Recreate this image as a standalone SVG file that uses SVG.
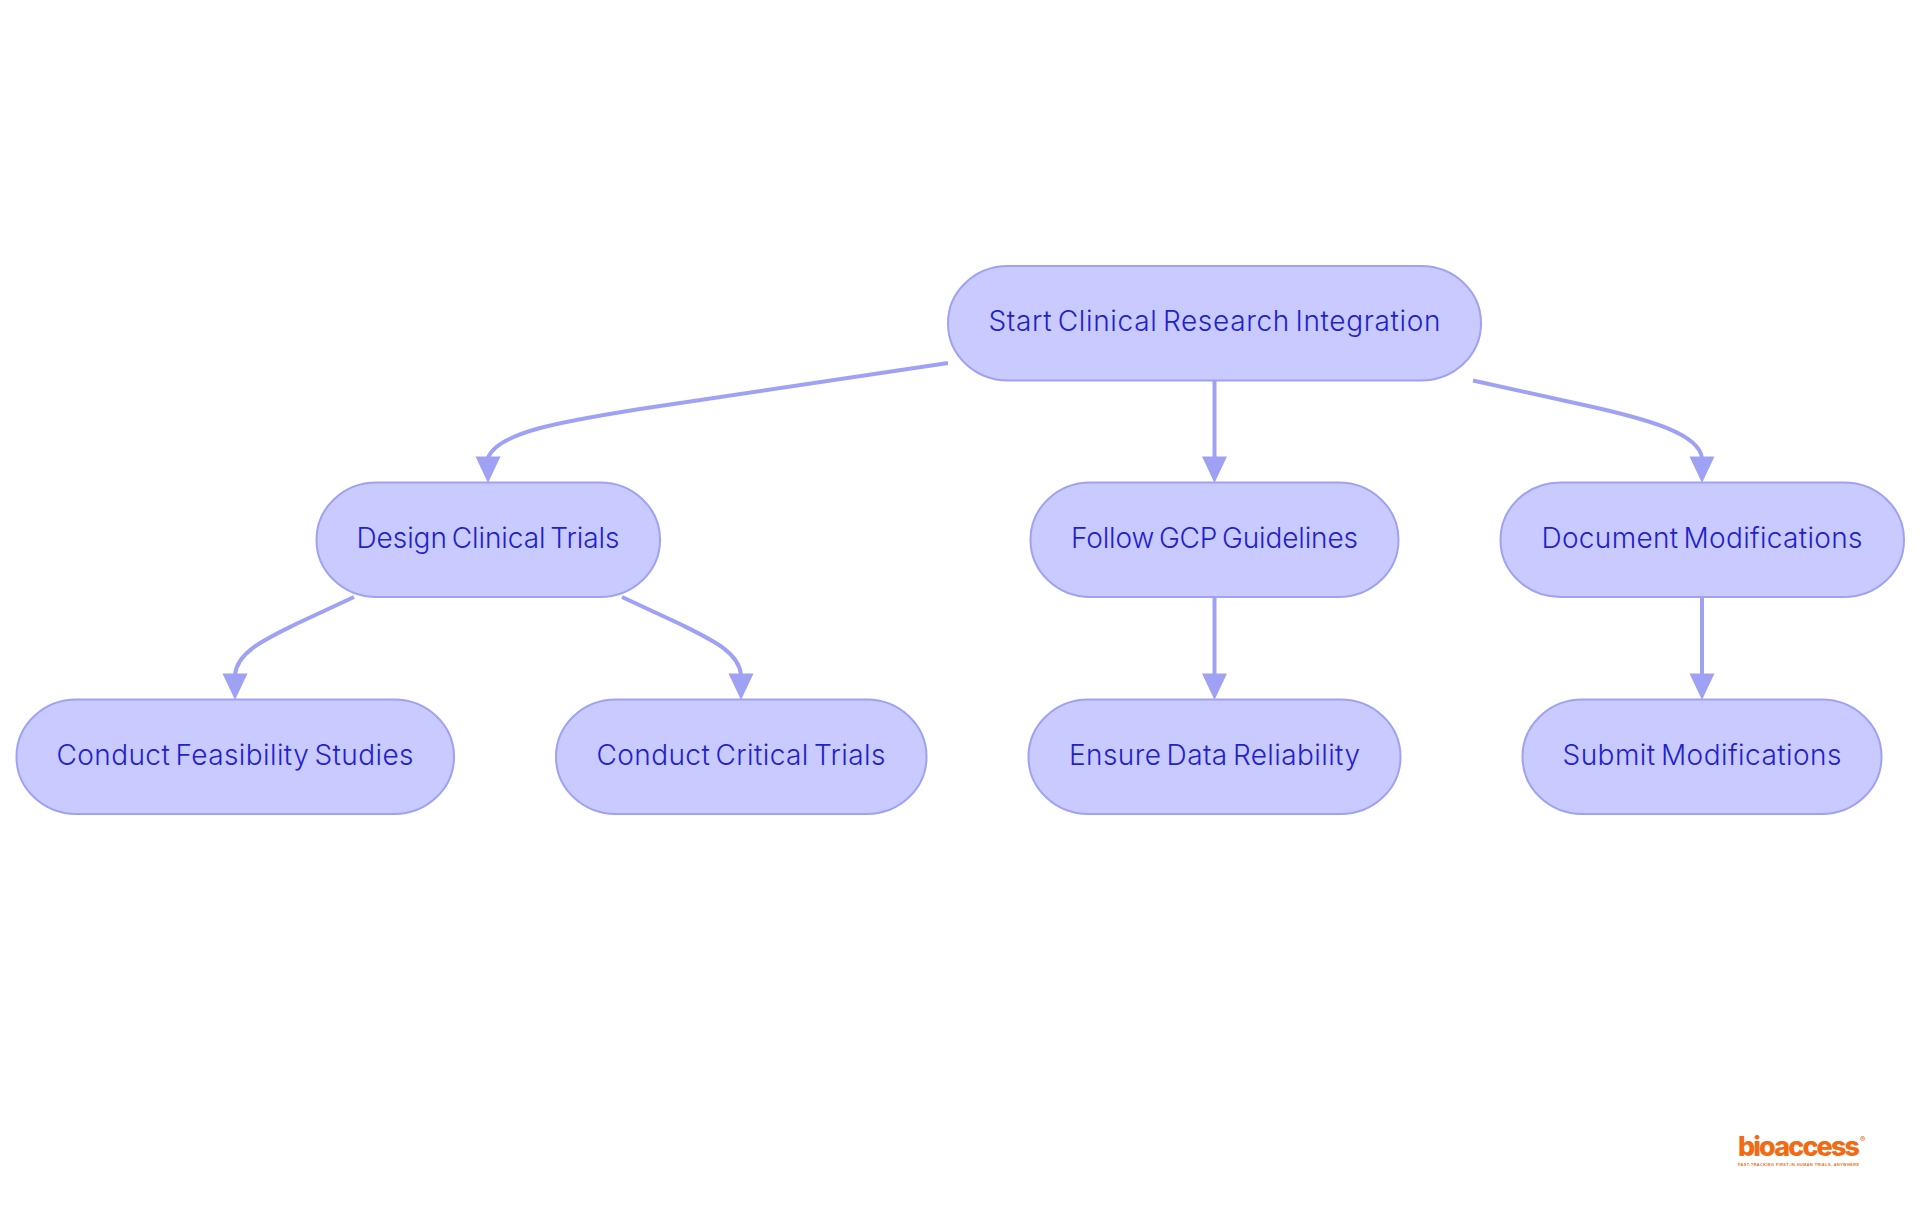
<svg xmlns="http://www.w3.org/2000/svg" width="1920" height="1215" viewBox="0 0 1920 1215">
<style>
.n{fill:#c9caff;stroke:#9fa2f4;stroke-width:2}
.t{font-family:"Inter","Noto Sans",sans-serif;font-size:28px;font-weight:300;word-spacing:-3px;fill:#2222cc;text-anchor:middle}
.c{fill:none;stroke:#9fa2f4;stroke-width:4}
.h{fill:#9fa2f4}
.logo{font-family:"Inter","Liberation Sans",sans-serif;fill:#f26a12}
.tag{font-family:"Liberation Sans",sans-serif;fill:#f26a12}
</style>
<defs><path id="ah" class="h" d="M-12.500 -25.500H12.500L0 1Z"/></defs>
<rect width="1920" height="1215" fill="#fff"/>
<g id="connectors">
<path class="c" d="M948 363L640 409C565 421 497 432 488 458"/>
<path class="c" d="M1214.500 381V458"/>
<path class="c" d="M1473 380.500L1593 407C1650 420 1699 434 1702 458"/>
<path class="c" d="M354 597L296 624C264 640 237 652 235 675"/>
<path class="c" d="M622 597L680 624C712 640 739 652 741 675"/>
<path class="c" d="M1214.500 597V675"/>
<path class="c" d="M1702 597V675"/>
</g>
<g id="n1"><rect class="n" x="948" y="266" width="533" height="114.500" rx="60" ry="57"/><text class="t" x="1214.500" y="331" textLength="452">Start Clinical Research Integration</text></g>
<g id="n2"><rect class="n" x="316.500" y="482.500" width="343.500" height="114.500" rx="60" ry="57"/><text class="t" x="488" y="548" textLength="263">Design Clinical Trials</text></g>
<g id="n3"><rect class="n" x="1030.500" y="482.500" width="368" height="114.500" rx="60" ry="57"/><text class="t" x="1214.500" y="548" textLength="287">Follow GCP Guidelines</text></g>
<g id="n4"><rect class="n" x="1500.500" y="482.500" width="403.500" height="114.500" rx="60" ry="57"/><text class="t" x="1702" y="548" textLength="321">Document Modifications</text></g>
<g id="n5"><rect class="n" x="16.500" y="699.500" width="437.500" height="114.500" rx="60" ry="57"/><text class="t" x="235" y="765" textLength="357">Conduct Feasibility Studies</text></g>
<g id="n6"><rect class="n" x="556" y="699.500" width="370.500" height="114.500" rx="60" ry="57"/><text class="t" x="741" y="765" textLength="289">Conduct Critical Trials</text></g>
<g id="n7"><rect class="n" x="1028.500" y="699.500" width="372" height="114.500" rx="60" ry="57"/><text class="t" x="1214.500" y="765" textLength="291">Ensure Data Reliability</text></g>
<g id="n8"><rect class="n" x="1522.500" y="699.500" width="359" height="114.500" rx="60" ry="57"/><text class="t" x="1702" y="765" textLength="279">Submit Modifications</text></g>
<g id="arrowheads"><use href="#ah" x="488" y="482"/><use href="#ah" x="1214.500" y="482"/><use href="#ah" x="1702" y="482"/><use href="#ah" x="235" y="699"/><use href="#ah" x="741" y="699"/><use href="#ah" x="1214.500" y="699"/><use href="#ah" x="1702" y="699"/></g>
<g id="logo"><text class="logo" x="1738" y="1155.500" font-size="27" font-weight="800" textLength="122">bioaccess</text><text class="logo" x="1860" y="1142" font-size="8" font-weight="700">®</text><text class="tag" x="1738" y="1165.500" font-size="3.800" font-weight="700" textLength="121">FAST-TRACKING FIRST-IN-HUMAN TRIALS, ANYWHERE</text></g>
</svg>
